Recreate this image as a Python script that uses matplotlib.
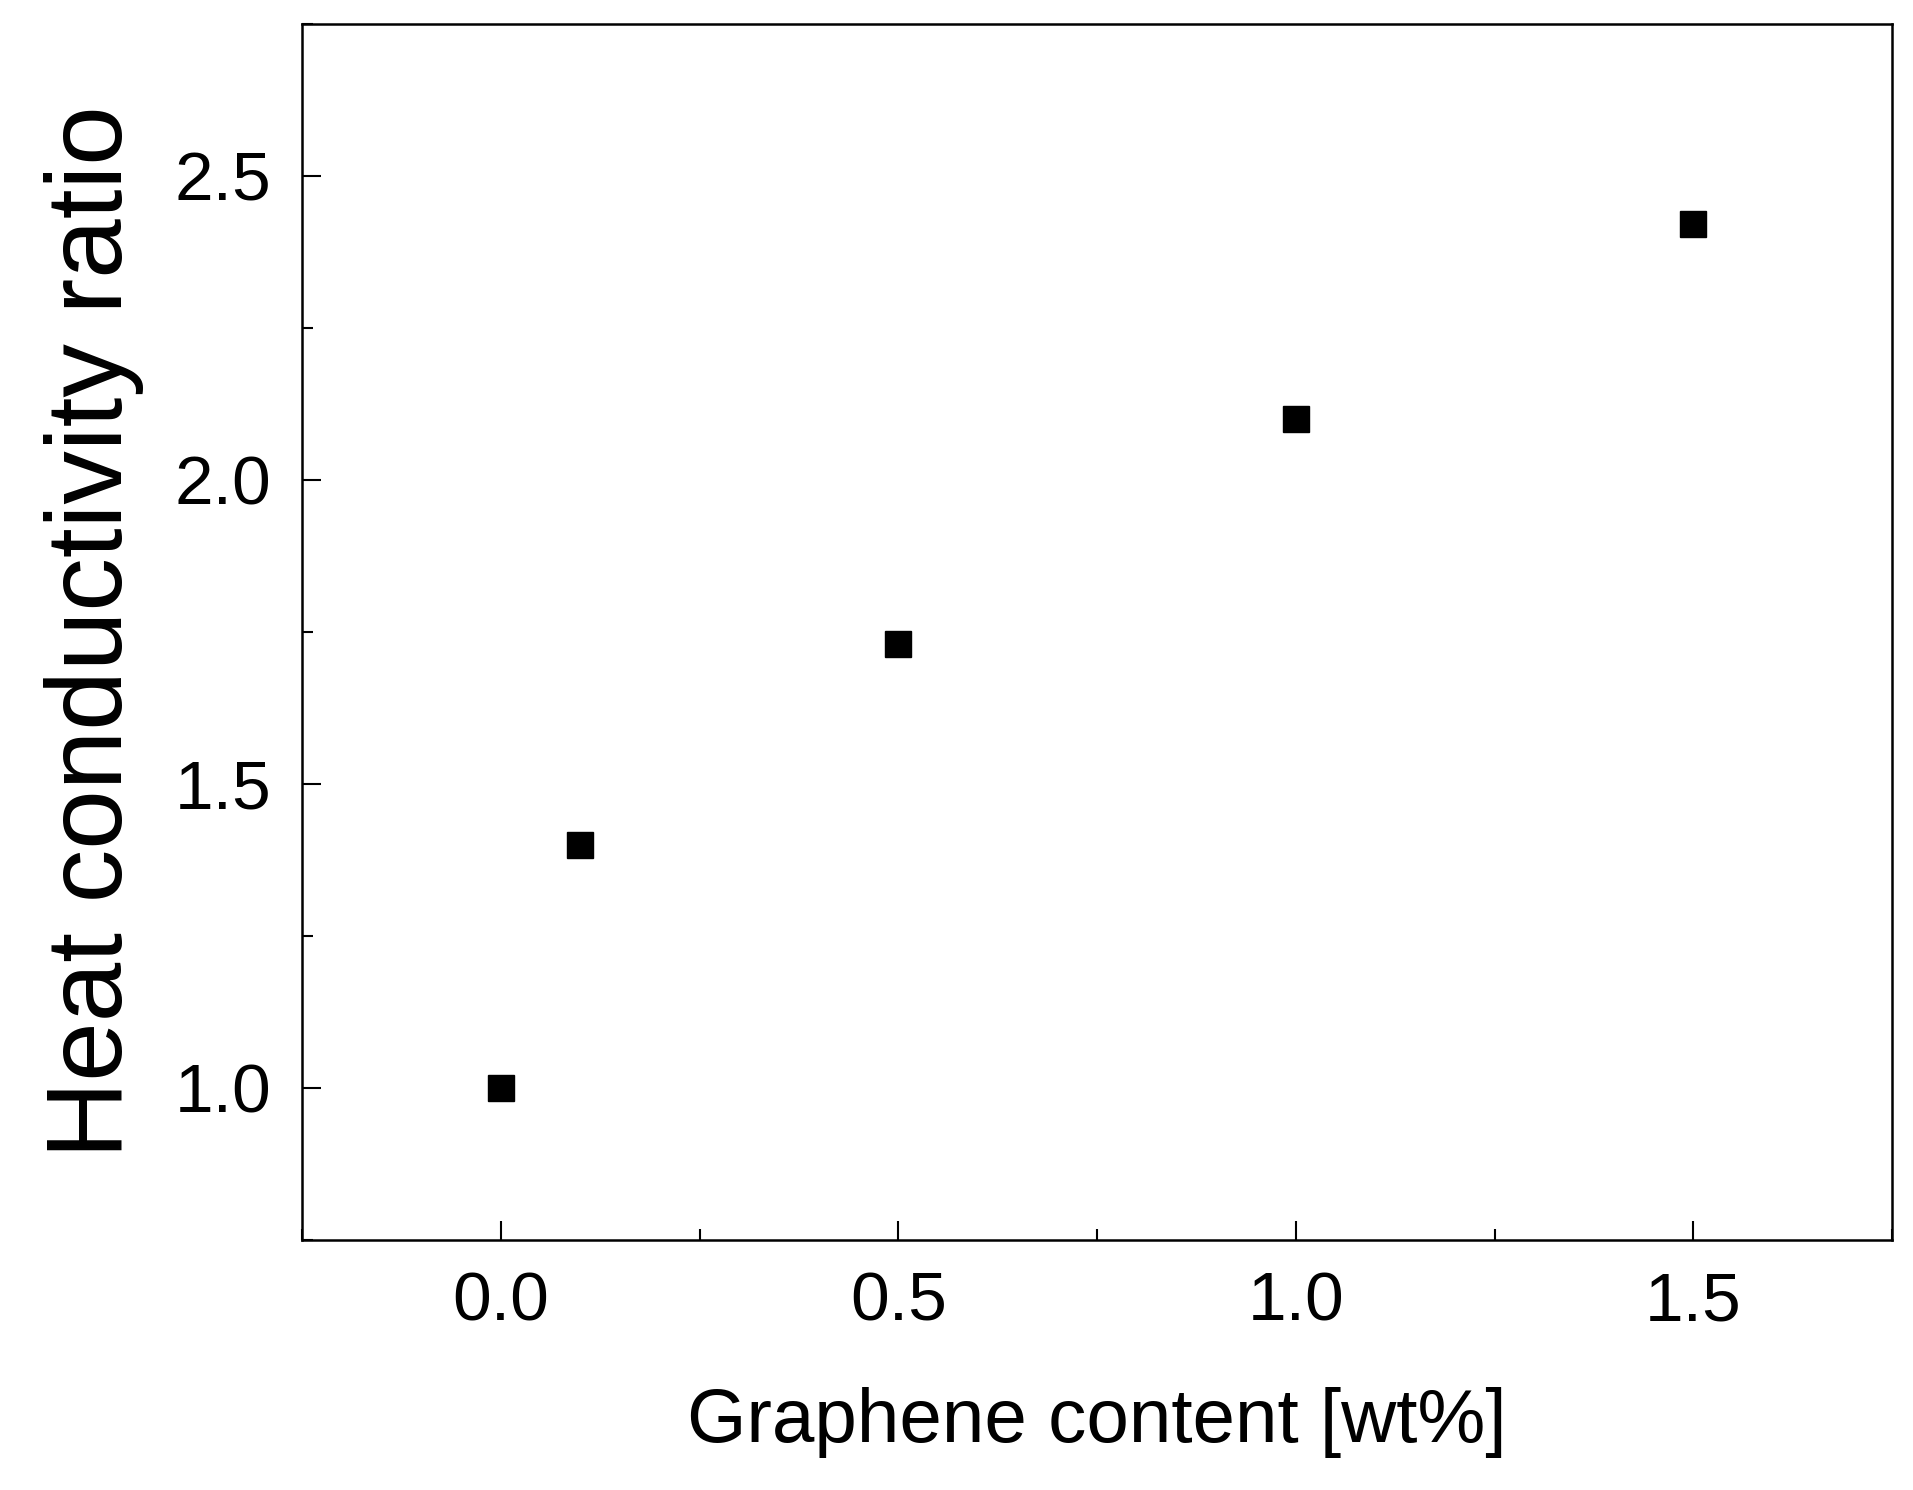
import matplotlib
matplotlib.use("Agg")
from matplotlib import pyplot as plt
from matplotlib.ticker import MultipleLocator

graphene_wt = [0.0, 0.1, 0.5, 1.0, 1.5]
conductivity_ratio = [1.0, 1.40, 1.73, 2.10, 2.42]

plt.rcParams['font.family'] = ['Liberation Sans', 'DejaVu Sans']

fig = plt.figure(figsize=(19.13, 14.90), dpi=100)
ax = fig.add_axes([0.158, 0.168, 0.831, 0.816])
ax.plot(graphene_wt, conductivity_ratio, linestyle='none', marker='s',
        color='black', markersize=19)

ax.set_xlim(-0.25, 1.75)
ax.set_ylim(0.75, 2.75)
ax.xaxis.set_major_locator(MultipleLocator(0.5))
ax.xaxis.set_minor_locator(MultipleLocator(0.25))
ax.yaxis.set_major_locator(MultipleLocator(0.5))
ax.yaxis.set_minor_locator(MultipleLocator(0.25))
ax.tick_params(which='both', direction='in', width=1.5)
ax.tick_params(which='major', length=14, labelsize=50, pad=22)
ax.tick_params(which='minor', length=8)
for s in ax.spines.values():
    s.set_linewidth(1.8)

ax.set_xlabel("Graphene content [wt%]", fontsize=55, labelpad=38)
ax.set_ylabel("Heat conductivity ratio", fontsize=77, labelpad=22)

fig.savefig("out.png", dpi=100)
